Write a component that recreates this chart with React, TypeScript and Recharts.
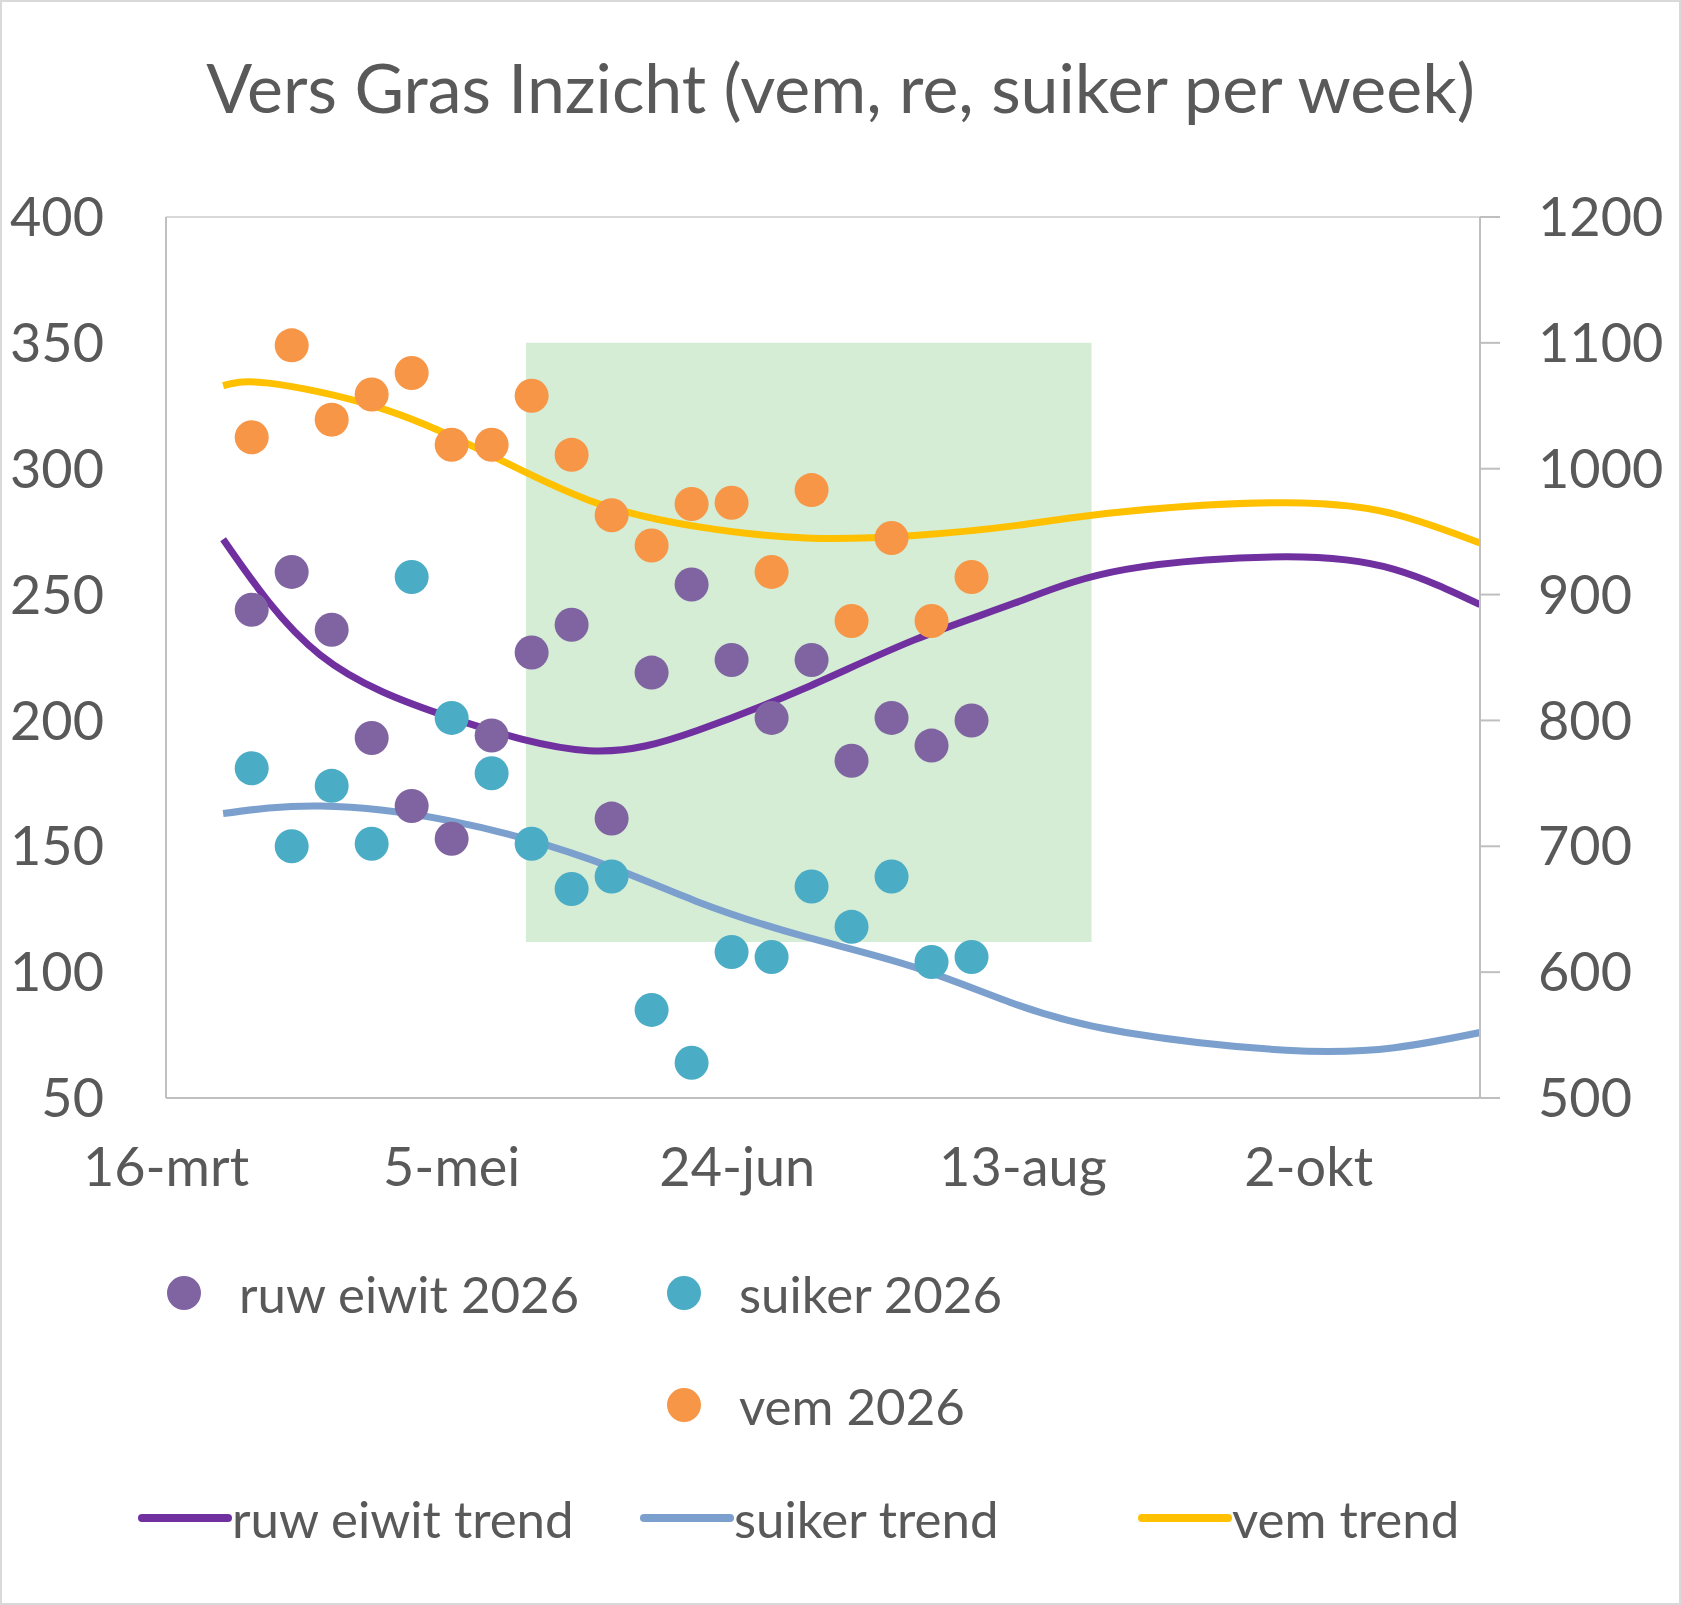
import React from 'react';
import {
  ComposedChart,
  Scatter,
  Line,
  XAxis,
  YAxis,
  CartesianGrid,
  ReferenceArea,
} from 'recharts';

// day offsets from 16-mrt
const weeks = [15, 22, 29, 36, 43, 50, 57, 64, 71, 78, 85, 92, 99, 106, 113, 120, 127, 134, 141];
const eiwit = [244, 259, 236, 193, 166, 153, 194, 227, 238, 161, 219, 254, 224, 201, 224, 184, 201, 190, 200];
const suiker = [181, 150, 174, 151, 257, 201, 179, 151, 133, 138, 85, 64, 108, 106, 134, 118, 138, 104, 106];
const vem = [1025, 1098, 1039, 1059, 1076, 1019, 1019, 1058, 1011, 963, 939, 972, 973, 918, 983, 879, 945, 879, 914];

const trendDays = [10, 27, 50, 74, 93, 112, 131, 149, 168, 196, 215, 230];
const eiwitTrend = [272, 226, 201, 188, 196, 213, 232, 247, 260, 265, 260, 246];
const suikerTrend = [163, 166, 160, 145, 128, 114, 102, 87, 76, 69, 70, 76];
const vemTrendDays = [10, 18, 37, 55, 74, 93, 112, 131, 149, 168, 196, 215, 230];
const vemTrend = [1066, 1068, 1049, 1015, 975, 954, 945, 947, 955, 966, 973, 964, 941];

const xTicks = [0, 50, 100, 150, 200];
const xLabels = ['16-mrt', '5-mei', '24-jun', '13-aug', '2-okt'];

const pts = (xs: number[], ys: number[]) => xs.map((x, i) => ({ x, y: ys[i] }));

const FONT = 'Lato, "Open Sans", sans-serif';
const TXT = '#595959';

const dot = (color: string) => (p: any) => <circle cx={p.cx} cy={p.cy} r={17} fill={color} />;

export default function App() {
  const tick = { fill: TXT, fontSize: 54, fontFamily: FONT };
  return (
    <div style={{ position: 'absolute', left: 0, top: 0, width: 1677, height: 1601, border: '2px solid #d9d9d9', background: '#fff', fontFamily: FONT, color: TXT }}>
      <div style={{ position: 'absolute', top: 44, width: '100%', textAlign: 'center', fontSize: 68 }}>
        Vers Gras Inzicht (vem, re, suiker per week)
      </div>
      <div style={{ position: 'absolute', left: 0, top: 0 }}>
        <ComposedChart width={1677} height={1250} margin={{ top: 215, right: 17, bottom: 4, left: 24 }}>
          <CartesianGrid stroke="#d9d9d9" strokeWidth={2} vertical={false} />
          <XAxis
            type="number" dataKey="x" domain={[0, 230]} ticks={xTicks} allowDataOverflow
            tickFormatter={(v) => xLabels[xTicks.indexOf(v)] ?? ''}
            tick={tick} tickLine={false} stroke="#bfbfbf" strokeWidth={2} height={150} tickMargin={44}
          />
          <YAxis yAxisId="l" domain={[50, 400]} ticks={[50, 100, 150, 200, 250, 300, 350, 400]}
            tick={tick} tickLine={false} stroke="#bfbfbf" strokeWidth={2} width={140} tickMargin={56} />
          <YAxis yAxisId="r" orientation="right" domain={[500, 1200]} ticks={[500, 600, 700, 800, 900, 1000, 1100, 1200]}
            tick={{ ...tick, textAnchor: 'start' }} tickLine={{ stroke: '#bfbfbf', strokeWidth: 2 }} tickSize={20}
            stroke="#bfbfbf" strokeWidth={2} width={182} tickMargin={38} />
          <ReferenceArea yAxisId="l" x1={63} x2={162} y1={112} y2={350} fill="#d5ecd5" fillOpacity={1} stroke="none" />
          <Line yAxisId="l" data={pts(trendDays, eiwitTrend)} dataKey="y" type="natural" stroke="#7030a0" strokeWidth={7} dot={false} isAnimationActive={false} />
          <Line yAxisId="l" data={pts(trendDays, suikerTrend)} dataKey="y" type="natural" stroke="#7ba0cd" strokeWidth={7} dot={false} isAnimationActive={false} />
          <Line yAxisId="r" data={pts(vemTrendDays, vemTrend)} dataKey="y" type="natural" stroke="#ffc000" strokeWidth={7} dot={false} isAnimationActive={false} />
          <Scatter yAxisId="l" data={pts(weeks, eiwit)} dataKey="y" shape={dot('#8064a2')} isAnimationActive={false} />
          <Scatter yAxisId="l" data={pts(weeks, suiker)} dataKey="y" shape={dot('#4bacc6')} isAnimationActive={false} />
          <Scatter yAxisId="r" data={pts(weeks, vem)} dataKey="y" shape={dot('#f79646')} isAnimationActive={false} />
        </ComposedChart>
      </div>
      {[
        { x: 182, y: 1291, c: '#8064a2', t: 'ruw eiwit 2026' },
        { x: 682, y: 1291, c: '#4bacc6', t: 'suiker 2026' },
        { x: 682, y: 1403, c: '#f79646', t: 'vem 2026' },
      ].map((l) => (
        <div key={l.t} style={{ position: 'absolute', left: l.x - 17, top: l.y - 30, display: 'flex', alignItems: 'center', fontSize: 51, height: 60 }}>
          <span style={{ width: 34, height: 34, borderRadius: 17, background: l.c, marginRight: 38 }} />
          {l.t}
        </div>
      ))}
      {[
        { x: 136, c: '#7030a0', t: 'ruw eiwit trend' },
        { x: 638, c: '#7ba0cd', t: 'suiker trend' },
        { x: 1136, c: '#ffc000', t: 'vem trend' },
      ].map((l) => (
        <div key={l.t} style={{ position: 'absolute', left: l.x, top: 1486, display: 'flex', alignItems: 'center', fontSize: 51, height: 60 }}>
          <span style={{ width: 94, height: 8, borderRadius: 4, background: l.c }} />
          {l.t}
        </div>
      ))}
    </div>
  );
}
